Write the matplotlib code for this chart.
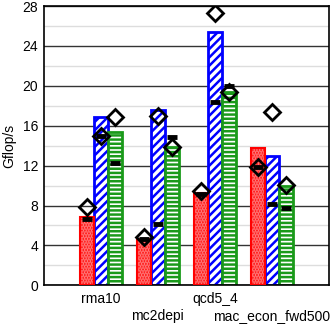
import matplotlib
matplotlib.use("Agg")
import matplotlib.pyplot as plt
import numpy as np

categories = ['rma10', 'mc2depi', 'qcd5_4', 'mac_econ_fwd500']

# bar heights (Gflop/s)
red_vals = [6.8, 4.65, 9.3, 13.8]
blue_vals = [16.85, 17.55, 25.4, 12.95]
green_vals = [15.35, 13.9, 19.4, 9.95]

# open diamonds
red_diam = [7.85, 4.8, 9.5, 11.85]
blue_diam = [15.0, 17.0, 27.3, 17.4]
green_diam = [16.9, 13.9, 19.4, 10.05]

# black dashes
red_dash = [6.6, 4.6, 9.2, 11.9]
blue_dash = [15.0, 6.1, 18.4, 8.2]
green_dash = [12.3, 14.9, 20.0, 7.75]

plt.rcParams['hatch.linewidth'] = 1.8
plt.rcParams['font.family'] = ['Liberation Sans', 'DejaVu Sans']

fig = plt.figure(figsize=(3.35, 3.24), dpi=100)
ax = fig.add_axes([0.131, 0.1194, 0.851, 0.862])

x = np.arange(1, len(categories) + 1)
w = 0.25

# red: red fill with light dots
ax.bar(x - w, red_vals, w, color='#ff0d0d', edgecolor='#ff7a7a', hatch='......',
       linewidth=0, zorder=2)
ax.bar(x - w, red_vals, w, fill=False, edgecolor='#ff0000', linewidth=1.5, zorder=3)
# blue: diagonal stripes
ax.bar(x, blue_vals, w, color='white', edgecolor='#0000ff', hatch='////',
       linewidth=2, zorder=2)
# green: horizontal stripes
ax.bar(x + w, green_vals, w, color='white', edgecolor='#1a9a1a', hatch='----',
       linewidth=2, zorder=2)

for off, dash in [(-w, red_dash), (0, blue_dash), (w, green_dash)]:
    ax.plot(x + off, dash, linestyle='none', marker='_', markersize=7,
            markeredgewidth=3.5, color='black', zorder=4)
for off, diam in [(-w, red_diam), (0, blue_diam), (w, green_diam)]:
    ax.plot(x + off, diam, linestyle='none', marker='D', markersize=8,
            markeredgewidth=2, markerfacecolor='none', markeredgecolor='black', zorder=5)

ax.set_xlim(0, 5)
ax.set_ylim(0, 28)
ax.set_yticks(np.arange(0, 29, 4))
ax.set_yticks(np.arange(2, 28, 4), minor=True)
ax.tick_params(axis='y', which='both', length=0, labelsize=10, pad=4)
ax.grid(axis='y', which='major', color='#333333', linewidth=1, zorder=0)
ax.grid(axis='y', which='minor', color='#dddddd', linewidth=1, zorder=0)
ax.set_axisbelow(True)

ax.set_xticks(x)
ax.set_xticklabels(categories, fontsize=10)
ax.tick_params(axis='x', length=0, pad=5)
for i, lab in enumerate(ax.get_xticklabels()):
    if i % 2 == 1:
        lab.set_y(-0.060)

ax.set_ylabel('Gflop/s', fontsize=10, labelpad=5)
for sp in ax.spines.values():
    sp.set_linewidth(1.2)

fig.savefig('out.png', dpi=100)
